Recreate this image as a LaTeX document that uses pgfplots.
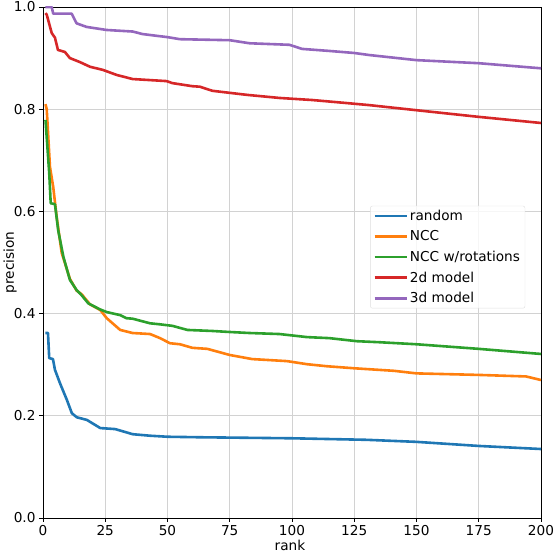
\documentclass[border=0pt]{standalone}
\usepackage{fontspec}
\setmainfont{DejaVu Sans}
\usepackage{pgfplots}
\pgfplotsset{compat=1.18}
\definecolor{tblue}{HTML}{1F77B4}
\definecolor{torange}{HTML}{FF7F0E}
\definecolor{tgreen}{HTML}{2CA02C}
\definecolor{tred}{HTML}{D62728}
\definecolor{tpurple}{HTML}{9467BD}

\begin{document}
\begin{tikzpicture}
\begin{axis}[
    name=ax,
    scale only axis,
    width=498bp, height=511bp,
    xmin=0, xmax=200, ymin=0, ymax=1.0,
    xtick={0,25,...,200},
    ytick={0,0.2,...,1.0},
    yticklabel style={/pgf/number format/.cd, fixed, fixed zerofill, precision=1},
    /pgf/number format/assume math mode=true,
    tick label style={font=\fontsize{13.7}{16}\selectfont},
    label style={font=\fontsize{13.7}{16}\selectfont},
    xlabel={rank}, ylabel={precision},
    xlabel style={at={(axis description cs:0.496,-0.053)}, anchor=center},
    ylabel style={at={(axis description cs:-0.066,0.5)}, anchor=center},
    tick align=outside, tickpos=left,
    major tick length=4bp,
    tick style={black, line width=0.8pt},
    axis line style={line width=0.8pt},
    grid=major,
    grid style={gray!35, line width=0.8pt},
    every axis plot/.append style={line width=2.6bp, line join=round},
    legend cell align=left,
    legend image code/.code={\draw[#1, line width=2.6bp] (0bp,0bp) -- (32bp,0bp);},
    legend style={at={(axis description cs:0.657,0.611)}, anchor=north west,
        font=\fontsize{13.7}{16}\selectfont,
        draw=gray!25, rounded corners=2bp, fill=white, fill opacity=0.8, text opacity=1,
        row sep=4.8bp, inner xsep=3bp, inner ysep=2bp},
]
\addplot[tblue] coordinates {
(1,0.362)(2,0.362)(2.5,0.313)(4,0.311)(4.8,0.29)(6.8,0.264)(9.6,0.231)(11.6,0.205)
(13.6,0.197)(17.6,0.192)(23,0.176)(29,0.174)(36,0.164)(43,0.161)(50,0.159)(63,0.158)
(100,0.156)(130,0.153)(150,0.149)(175,0.141)(200,0.135)};
\addlegendentry{random}
\addplot[torange] coordinates {
(1,0.81)(1.5,0.80)(2.8,0.687)(4.1,0.648)(5.5,0.589)(7.5,0.519)(10.8,0.468)(13.5,0.445)
(15.5,0.438)(18.9,0.418)(23,0.407)(25.6,0.391)(31,0.368)(36,0.362)(43,0.36)(47,0.352)
(51,0.342)(55,0.34)(60,0.333)(66,0.331)(75,0.319)(84,0.311)(98,0.307)(106,0.301)
(114,0.297)(125,0.293)(141,0.288)(150,0.283)(175,0.280)(194,0.277)(200,0.270)};
\addlegendentry{NCC}
\addplot[tgreen] coordinates {
(1,0.779)(2.5,0.675)(3.1,0.616)(4.8,0.614)(6.1,0.563)(8.2,0.511)(10.8,0.466)(13.5,0.446)
(15.5,0.436)(18.2,0.42)(23,0.408)(25.6,0.403)(31,0.397)(33.5,0.391)(36,0.390)(43,0.381)
(47,0.379)(52,0.376)(58,0.368)(68,0.366)(75,0.364)(83,0.362)(95,0.36)(106,0.354)
(115,0.352)(126,0.346)(135,0.344)(150,0.340)(175,0.331)(200,0.321)};
\addlegendentry{NCC w/rotations}
\addplot[tred] coordinates {
(1,0.988)(1.5,0.985)(3.5,0.949)(4.8,0.94)(6,0.916)(8.8,0.912)(10.8,0.90)(14.9,0.892)
(18.9,0.883)(24,0.877)(29.6,0.867)(36,0.859)(49.6,0.855)(52,0.851)(60,0.845)(63,0.844)
(68,0.836)(75,0.832)(82,0.828)(95,0.822)(108,0.818)(122,0.812)(131,0.808)(150,0.798)
(175,0.785)(200,0.773)};
\addlegendentry{2d model}
\addplot[tpurple] coordinates {
(1,1.0)(3.5,1.0)(4.1,0.987)(11.5,0.987)(13.5,0.968)(17.5,0.961)(25.6,0.955)(36,0.952)
(40,0.947)(50,0.941)(55,0.937)(75,0.935)(83,0.929)(99,0.926)(104,0.918)(115,0.914)
(125,0.910)(131,0.906)(150,0.896)(175,0.890)(200,0.880)};
\addlegendentry{3d model}
\end{axis}
\pgfresetboundingbox
\path ([shift={(-43bp,-36bp)}]ax.south west) rectangle ([shift={(13bp,7bp)}]ax.north east);
\end{tikzpicture}
\end{document}
